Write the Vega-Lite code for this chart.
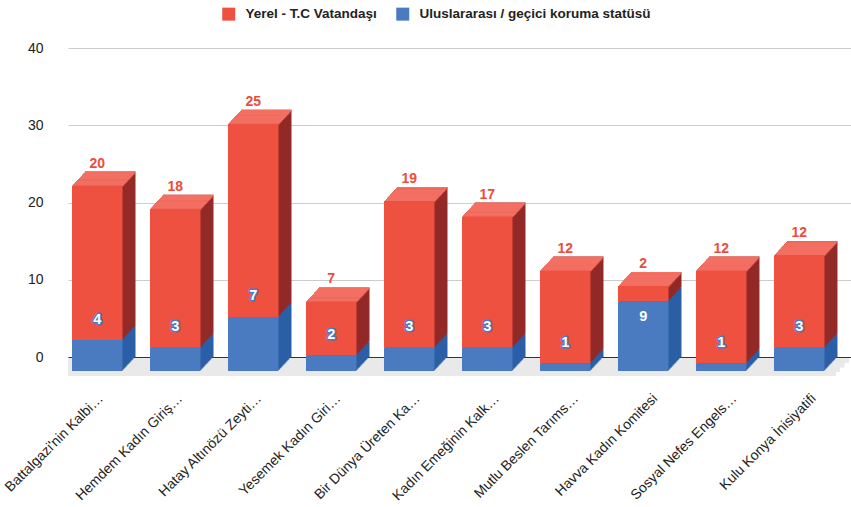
{
  "$schema": "https://vega.github.io/schema/vega-lite/v6.json",
  "width": 783,
  "height": 309,
  "autosize": {"type": "none"},
  "padding": {"left": 68, "top": 48, "right": 0, "bottom": 150},
  "background": "white",
  "config": {"view": {"stroke": null}, "font": "Liberation Sans",
    "legend": {"orient": "none", "legendX": 154, "legendY": -41, "direction": "horizontal", "symbolType": "square", "symbolSize": 169, "symbolStrokeWidth": 0, "labelFontSize": 13.5, "labelFont": "Liberation Sans", "labelFontWeight": "bold", "labelColor": "#222222", "labelLimit": 0, "columnPadding": 19, "labelOffset": 10, "padding": 0}
  },
  "data": {"values": [
    {"name": "Battalgazi'nin Kalbi…", "series": "Yerel - T.C Vatandaşı", "value": 20},
    {"name": "Battalgazi'nin Kalbi…", "series": "Uluslararası / geçici koruma statüsü", "value": 4},
    {"name": "Hemdem Kadın Giriş…", "series": "Yerel - T.C Vatandaşı", "value": 18},
    {"name": "Hemdem Kadın Giriş…", "series": "Uluslararası / geçici koruma statüsü", "value": 3},
    {"name": "Hatay Altınözü Zeyti…", "series": "Yerel - T.C Vatandaşı", "value": 25},
    {"name": "Hatay Altınözü Zeyti…", "series": "Uluslararası / geçici koruma statüsü", "value": 7},
    {"name": "Yesemek Kadın Giri…", "series": "Yerel - T.C Vatandaşı", "value": 7},
    {"name": "Yesemek Kadın Giri…", "series": "Uluslararası / geçici koruma statüsü", "value": 2},
    {"name": "Bir Dünya Üreten Ka…", "series": "Yerel - T.C Vatandaşı", "value": 19},
    {"name": "Bir Dünya Üreten Ka…", "series": "Uluslararası / geçici koruma statüsü", "value": 3},
    {"name": "Kadın Emeğinin Kalk…", "series": "Yerel - T.C Vatandaşı", "value": 17},
    {"name": "Kadın Emeğinin Kalk…", "series": "Uluslararası / geçici koruma statüsü", "value": 3},
    {"name": "Mutlu Beslen Tarıms…", "series": "Yerel - T.C Vatandaşı", "value": 12},
    {"name": "Mutlu Beslen Tarıms…", "series": "Uluslararası / geçici koruma statüsü", "value": 1},
    {"name": "Havva Kadın Komitesi", "series": "Yerel - T.C Vatandaşı", "value": 2},
    {"name": "Havva Kadın Komitesi", "series": "Uluslararası / geçici koruma statüsü", "value": 9},
    {"name": "Sosyal Nefes Engels…", "series": "Yerel - T.C Vatandaşı", "value": 12},
    {"name": "Sosyal Nefes Engels…", "series": "Uluslararası / geçici koruma statüsü", "value": 1},
    {"name": "Kulu Konya İnisiyatifi", "series": "Yerel - T.C Vatandaşı", "value": 12},
    {"name": "Kulu Konya İnisiyatifi", "series": "Uluslararası / geçici koruma statüsü", "value": 3}
  ]},
  "transform": [
    {"stack": "value", "groupby": ["name"], "sort": [{"field": "series", "order": "ascending"}], "as": ["v0", "v1"]}
  ],
  "layer": [
    {"data": {"values": [{"g": 0}]}, "mark": {"type": "rule", "color": "#e8e9e8", "strokeWidth": 5, "yOffset": 3.5, "xOffset": -2, "x2Offset": -2}, "encoding": {"y": {"datum": 0, "type": "quantitative"}}},
    {"data": {"values": [{"g": 0}]}, "mark": {"type": "rule", "color": "#e8e9e8", "strokeWidth": 5, "yOffset": 8, "xOffset": -6.5, "x2Offset": -6.5}, "encoding": {"y": {"datum": 0, "type": "quantitative"}}},
    {"data": {"values": [{"g": 0}]}, "mark": {"type": "rule", "color": "#e8e9e8", "strokeWidth": 5, "yOffset": 12.5, "xOffset": -11, "x2Offset": -11}, "encoding": {"y": {"datum": 0, "type": "quantitative"}}},
    {"data": {"values": [{"g": 0}]}, "mark": {"type": "rule", "color": "#e8e9e8", "strokeWidth": 5, "yOffset": 16.5, "xOffset": -15, "x2Offset": -15}, "encoding": {"y": {"datum": 0, "type": "quantitative"}}},
    {
      "encoding": {
        "x": {"field": "name", "type": "nominal", "sort": null, "axis": null,
          "scale": {"type": "band", "paddingInner": 0.3526, "paddingOuter": 0.1957, "align": 0.557, "round": false}},
        "y": {"field": "v1", "type": "quantitative", "scale": {"domain": [0, 40], "nice": false},
          "axis": {"values": [0, 10, 20, 30, 40], "title": null, "domain": false, "ticks": false, "labelPadding": 25, "labelFontSize": 14, "labelColor": "#222222", "labelFont": "Liberation Sans", "grid": true,
            "gridColor": {"condition": {"test": "datum.value === 0", "value": "#333333"}, "value": "#cccccc"}}},
        "y2": {"field": "v0"}
      },
      "layer": [
        {"mark": {"type": "bar", "xOffset": 0, "yOffset": 0, "y2Offset": 0}, "encoding": {"color": {"condition": {"test": "datum.series === 'Yerel - T.C Vatandaşı'", "value": "#932a27"}, "value": "#2b5fa6"}}},
        {"mark": {"type": "bar", "xOffset": -1, "yOffset": 1.08, "y2Offset": 1.08}, "encoding": {"color": {"condition": {"test": "datum.series === 'Yerel - T.C Vatandaşı'", "value": "#932a27"}, "value": "#2b5fa6"}}},
        {"mark": {"type": "bar", "xOffset": -2, "yOffset": 2.15, "y2Offset": 2.15}, "encoding": {"color": {"condition": {"test": "datum.series === 'Yerel - T.C Vatandaşı'", "value": "#932a27"}, "value": "#2b5fa6"}}},
        {"mark": {"type": "bar", "xOffset": -3, "yOffset": 3.23, "y2Offset": 3.23}, "encoding": {"color": {"condition": {"test": "datum.series === 'Yerel - T.C Vatandaşı'", "value": "#932a27"}, "value": "#2b5fa6"}}},
        {"mark": {"type": "bar", "xOffset": -4, "yOffset": 4.31, "y2Offset": 4.31}, "encoding": {"color": {"condition": {"test": "datum.series === 'Yerel - T.C Vatandaşı'", "value": "#932a27"}, "value": "#2b5fa6"}}},
        {"mark": {"type": "bar", "xOffset": -5, "yOffset": 5.38, "y2Offset": 5.38}, "encoding": {"color": {"condition": {"test": "datum.series === 'Yerel - T.C Vatandaşı'", "value": "#932a27"}, "value": "#2b5fa6"}}},
        {"mark": {"type": "bar", "xOffset": -6, "yOffset": 6.46, "y2Offset": 6.46}, "encoding": {"color": {"condition": {"test": "datum.series === 'Yerel - T.C Vatandaşı'", "value": "#932a27"}, "value": "#2b5fa6"}}},
        {"mark": {"type": "bar", "xOffset": -7, "yOffset": 7.54, "y2Offset": 7.54}, "encoding": {"color": {"condition": {"test": "datum.series === 'Yerel - T.C Vatandaşı'", "value": "#932a27"}, "value": "#2b5fa6"}}},
        {"mark": {"type": "bar", "xOffset": -8, "yOffset": 8.62, "y2Offset": 8.62}, "encoding": {"color": {"condition": {"test": "datum.series === 'Yerel - T.C Vatandaşı'", "value": "#932a27"}, "value": "#2b5fa6"}}},
        {"mark": {"type": "bar", "xOffset": -9, "yOffset": 9.69, "y2Offset": 9.69}, "encoding": {"color": {"condition": {"test": "datum.series === 'Yerel - T.C Vatandaşı'", "value": "#932a27"}, "value": "#2b5fa6"}}},
        {"mark": {"type": "bar", "xOffset": -10, "yOffset": 10.77, "y2Offset": 10.77}, "encoding": {"color": {"condition": {"test": "datum.series === 'Yerel - T.C Vatandaşı'", "value": "#932a27"}, "value": "#2b5fa6"}}},
        {"mark": {"type": "bar", "xOffset": -11, "yOffset": 11.85, "y2Offset": 11.85}, "encoding": {"color": {"condition": {"test": "datum.series === 'Yerel - T.C Vatandaşı'", "value": "#932a27"}, "value": "#2b5fa6"}}},
        {"mark": {"type": "bar", "xOffset": -12, "yOffset": 12.92, "y2Offset": 12.92}, "encoding": {"color": {"condition": {"test": "datum.series === 'Yerel - T.C Vatandaşı'", "value": "#932a27"}, "value": "#2b5fa6"}}},

        {"transform": [{"filter": "datum.series === 'Yerel - T.C Vatandaşı'"}], "mark": {"type": "bar", "color": "#f36f62", "xOffset": 0, "yOffset": 0, "y2Offset": 1.7}, "encoding": {"y2": {"field": "v1"}}},
        {"transform": [{"filter": "datum.series === 'Yerel - T.C Vatandaşı'"}], "mark": {"type": "bar", "color": "#f36f62", "xOffset": -1, "yOffset": 1.08, "y2Offset": 2.78}, "encoding": {"y2": {"field": "v1"}}},
        {"transform": [{"filter": "datum.series === 'Yerel - T.C Vatandaşı'"}], "mark": {"type": "bar", "color": "#f36f62", "xOffset": -2, "yOffset": 2.15, "y2Offset": 3.85}, "encoding": {"y2": {"field": "v1"}}},
        {"transform": [{"filter": "datum.series === 'Yerel - T.C Vatandaşı'"}], "mark": {"type": "bar", "color": "#f36f62", "xOffset": -3, "yOffset": 3.23, "y2Offset": 4.93}, "encoding": {"y2": {"field": "v1"}}},
        {"transform": [{"filter": "datum.series === 'Yerel - T.C Vatandaşı'"}], "mark": {"type": "bar", "color": "#f36f62", "xOffset": -4, "yOffset": 4.31, "y2Offset": 6.01}, "encoding": {"y2": {"field": "v1"}}},
        {"transform": [{"filter": "datum.series === 'Yerel - T.C Vatandaşı'"}], "mark": {"type": "bar", "color": "#f36f62", "xOffset": -5, "yOffset": 5.38, "y2Offset": 7.08}, "encoding": {"y2": {"field": "v1"}}},
        {"transform": [{"filter": "datum.series === 'Yerel - T.C Vatandaşı'"}], "mark": {"type": "bar", "color": "#f36f62", "xOffset": -6, "yOffset": 6.46, "y2Offset": 8.16}, "encoding": {"y2": {"field": "v1"}}},
        {"transform": [{"filter": "datum.series === 'Yerel - T.C Vatandaşı'"}], "mark": {"type": "bar", "color": "#f36f62", "xOffset": -7, "yOffset": 7.54, "y2Offset": 9.24}, "encoding": {"y2": {"field": "v1"}}},
        {"transform": [{"filter": "datum.series === 'Yerel - T.C Vatandaşı'"}], "mark": {"type": "bar", "color": "#f36f62", "xOffset": -8, "yOffset": 8.62, "y2Offset": 10.32}, "encoding": {"y2": {"field": "v1"}}},
        {"transform": [{"filter": "datum.series === 'Yerel - T.C Vatandaşı'"}], "mark": {"type": "bar", "color": "#f36f62", "xOffset": -9, "yOffset": 9.69, "y2Offset": 11.39}, "encoding": {"y2": {"field": "v1"}}},
        {"transform": [{"filter": "datum.series === 'Yerel - T.C Vatandaşı'"}], "mark": {"type": "bar", "color": "#f36f62", "xOffset": -10, "yOffset": 10.77, "y2Offset": 12.47}, "encoding": {"y2": {"field": "v1"}}},
        {"transform": [{"filter": "datum.series === 'Yerel - T.C Vatandaşı'"}], "mark": {"type": "bar", "color": "#f36f62", "xOffset": -11, "yOffset": 11.85, "y2Offset": 13.55}, "encoding": {"y2": {"field": "v1"}}},
        {"transform": [{"filter": "datum.series === 'Yerel - T.C Vatandaşı'"}], "mark": {"type": "bar", "color": "#f36f62", "xOffset": -12, "yOffset": 12.92, "y2Offset": 14.62}, "encoding": {"y2": {"field": "v1"}}},

        {"mark": {"type": "bar", "xOffset": -13, "yOffset": 14, "y2Offset": 14},
          "encoding": {"color": {"field": "series", "type": "nominal", "title": null,
            "scale": {"domain": ["Yerel - T.C Vatandaşı", "Uluslararası / geçici koruma statüsü"], "range": ["#ef5141", "#4a7bc1"]}}}},

        {"transform": [{"filter": "datum.series === 'Yerel - T.C Vatandaşı'"}],
          "mark": {"type": "text", "dx": -13, "dy": -4, "baseline": "alphabetic", "align": "center", "fontSize": 14, "fontWeight": "bold", "color": "#ee4b3b"},
          "encoding": {"text": {"field": "value", "type": "quantitative"}}},
        {"transform": [{"filter": "datum.series !== 'Yerel - T.C Vatandaşı' && datum.value < 8"}],
          "mark": {"type": "text", "dx": -13, "dy": -2.5, "baseline": "alphabetic", "align": "center", "fontSize": 14.5, "fontWeight": "bold", "fill": "#4a7bc1", "stroke": "#4a7bc1", "strokeWidth": 3, "strokeJoin": "round"},
          "encoding": {"text": {"field": "value", "type": "quantitative"}}},
        {"transform": [{"filter": "datum.series !== 'Yerel - T.C Vatandaşı' && datum.value < 8"}],
          "mark": {"type": "text", "dx": -13, "dy": -2.5, "baseline": "alphabetic", "align": "center", "fontSize": 14.5, "fontWeight": "bold", "fill": "#ffffff"},
          "encoding": {"text": {"field": "value", "type": "quantitative"}}},
        {"transform": [{"filter": "datum.series !== 'Yerel - T.C Vatandaşı' && datum.value >= 8"}],
          "mark": {"type": "text", "dx": -13, "dy": 34, "baseline": "alphabetic", "align": "center", "fontSize": 14.5, "fontWeight": "bold", "fill": "#ffffff"},
          "encoding": {"text": {"field": "value", "type": "quantitative"}}}
      ]
    },
    {
      "mark": {"type": "point", "opacity": 0},
      "encoding": {
        "x": {"field": "name", "type": "nominal", "sort": null,
          "scale": {"type": "point", "padding": 0.443, "align": 0.442, "round": false},
          "axis": {"orient": "bottom", "title": null, "domain": false, "ticks": false, "tickSize": 0, "grid": false, "labelAngle": -45, "labelAlign": "right", "labelBaseline": "middle", "labelPadding": 39, "labelOffset": 1.5, "labelFontSize": 14, "labelLimit": 0, "labelColor": "#222222", "labelFont": "Liberation Sans"}}
      }
    }
  ],
  "resolve": {"scale": {"x": "independent"}, "axis": {"x": "independent"}}
}
